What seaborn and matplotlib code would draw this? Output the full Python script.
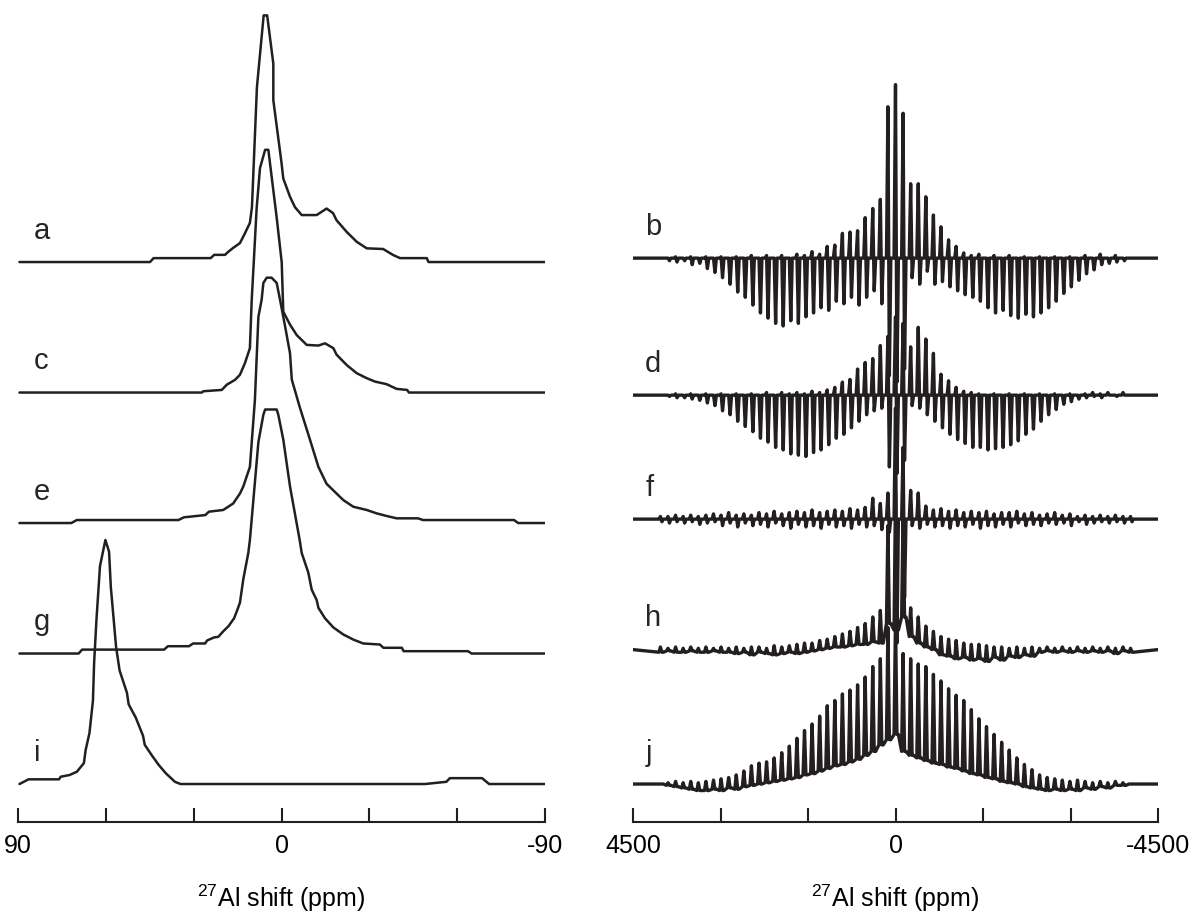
import numpy as np
import pandas as pd
import matplotlib
matplotlib.use("Agg")
import matplotlib.pyplot as plt
import seaborn as sns

# ---- left panel: 27Al MAS spectra (ppm, intensity above own baseline) ----
a_ppm = [89.5, 44.9, 43.7, 24.2, 23.0, 19.3, 18.1, 16.6, 14.2, 12.5, 10.8, 10.1, 8.4, 6.1, 4.9,
         2.8, 2.8, 0.0, -0.6, -2.9, -4.6, -6.9, -12.0, -15.4, -17.6, -18.8, -22.3, -25.7, -29.1,
         -34.7, -38.1, -40.5, -49.6, -50.2, -90.0]
a_int = [0, 0, 0.03, 0.03, 0.055, 0.055, 0.08, 0.107, 0.145, 0.22, 0.30, 0.42, 1.34, 1.89, 1.89,
         1.52, 1.24, 0.76, 0.64, 0.50, 0.42, 0.36, 0.36, 0.41, 0.375, 0.32, 0.23, 0.155, 0.105,
         0.10, 0.054, 0.03, 0.03, 0, 0]

c_ppm = [89.5, 27.2, 26.7, 20.4, 18.7, 15.9, 14.2, 12.5, 10.8, 10.2, 9.6, 8.5, 7.35, 5.6, 4.5,
         1.65, -0.06, -0.6, -2.9, -5.2, -8.6, -12.6, -14.85, -17.7, -18.8, -22.3, -25.7, -29.1,
         -31.9, -35.9, -39.3, -42.9, -43.5, -90.0]
c_int = [0, 0, 0.01, 0.02, 0.06, 0.097, 0.136, 0.225, 0.34, 0.70, 0.95, 1.41, 1.72, 1.86, 1.86,
         1.34, 1.0, 0.62, 0.52, 0.44, 0.365, 0.36, 0.377, 0.34, 0.29, 0.21, 0.148, 0.11,
         0.084, 0.064, 0.028, 0.02, 0, 0]

e_ppm = [89.5, 71.8, 69.9, 35.2, 33.3, 26.0, 24.8, 19.9, 16.5, 14.2, 13.05, 10.8, 9.1, 7.9, 6.8,
         6.2, 5.06, 3.4, 1.65, 0.5, -1.2, -2.9, -3.5, -6.2, -9.7, -12.6, -15.4, -17.7, -21.1,
         -24.5, -29.1, -32.5, -35.9, -39.3, -46.6, -48.3, -79.4, -80.8, -90.0]
e_int = [0, 0, 0.023, 0.023, 0.044, 0.061, 0.087, 0.10, 0.15, 0.226, 0.28, 0.43, 0.94, 1.58, 1.71,
         1.84, 1.88, 1.88, 1.84, 1.71, 1.51, 1.30, 1.10, 0.89, 0.64, 0.43, 0.30, 0.25, 0.176,
         0.125, 0.10, 0.074, 0.054, 0.036, 0.036, 0.023, 0.023, 0, 0]

g_ppm = [89.5, 69.3, 68.1, 40.1, 38.8, 31.6, 30.2, 26.1, 25.4, 23.1, 21.6, 19.9, 18.1, 16.2, 15.0,
         14.2, 13.05, 11.35, 10.8, 7.9, 6.2, 5.6, 1.65, 1.1, -0.6, -2.9, -6.2, -6.9, -9.15, -10.3,
         -12.0, -12.6, -14.85, -17.7, -21.1, -24.5, -27.9, -33.6, -34.8, -41.1, -41.7, -63.7,
         -64.9, -90.0]
g_int = [0, 0, 0.03, 0.03, 0.056, 0.056, 0.077, 0.077, 0.10, 0.123, 0.128, 0.17, 0.21, 0.27, 0.34,
         0.39, 0.57, 0.77, 0.87, 1.62, 1.83, 1.87, 1.87, 1.83, 1.64, 1.28, 0.87, 0.77, 0.62, 0.49,
         0.41, 0.35, 0.27, 0.20, 0.146, 0.107, 0.077, 0.069, 0.044, 0.044, 0.018, 0.018, 0, 0]

i_ppm = [89.5, 86.4, 76.0, 75.4, 72.4, 69.9, 67.5, 66.9, 65.6, 64.4, 64.0, 63.2, 62.0, 60.15, 58.9,
         58.3, 56.5, 55.3, 52.8, 52.2, 49.8, 47.3, 46.7, 44.3, 41.9, 39.5, 36.4, 34.5, -49.0,
         -56.3, -57.5, -68.5, -70.9, -90.0]
i_int = [0, 0.036, 0.036, 0.056, 0.069, 0.094, 0.16, 0.26, 0.39, 0.64, 0.93, 1.26, 1.67, 1.87, 1.78,
         1.51, 1.05, 0.87, 0.70, 0.61, 0.51, 0.37, 0.30, 0.22, 0.145, 0.082, 0.017, 0, 0,
         0.017, 0.045, 0.045, 0, 0]

left_labels = ["a", "c", "e", "g", "i"]
left_offsets = [4.0, 3.0, 2.0, 1.0, 0.0]

# ---- right panel: static spectra, spinning sidebands of order +31 ... -31 ----
sideband_order = list(range(31, -32, -1))
spin_ppm = 130  # sideband spacing

b_up = [0, 0, 0.01, 0, 0.01, 0, 0.01, 0, 0.01, 0,
        0.01, 0, 0.02, 0, 0.02, 0, 0.02, 0, 0.03, 0.02,
        0.05, 0.03, 0.09, 0.1, 0.19, 0.2, 0.21, 0.31, 0.38, 0.45,
        1.16, 1.33, 1.11,
        0.57, 0.57, 0.47, 0.33, 0.24, 0.14, 0.09, 0.04, 0.02, 0.03,
        0, 0.02, 0, 0.02, 0, 0.01, 0, 0.01, 0, 0.01,
        0, 0.01, 0, 0.02, 0, 0.03, 0, 0.02, 0, 0]
b_down = [0, -0.02, -0.03, -0.02, -0.05, -0.04, -0.08, -0.11, -0.15, -0.2,
          -0.26, -0.3, -0.36, -0.42, -0.46, -0.5, -0.52, -0.48, -0.5, -0.45,
          -0.42, -0.38, -0.4, -0.33, -0.35, -0.3, -0.36, -0.3, -0.25, -0.35,
          -0.9, -0.95, -0.85,
          -0.15, -0.2, -0.1, -0.2, -0.18, -0.22, -0.25, -0.28, -0.3, -0.33,
          -0.38, -0.42, -0.4, -0.44, -0.46, -0.43, -0.45, -0.42, -0.38, -0.33,
          -0.27, -0.22, -0.17, -0.12, -0.09, -0.05, -0.04, -0.03, -0.02, 0]

d_up = [0, 0, 0.01, 0, 0.01, 0, 0.01, 0, 0.01, 0,
        0.01, 0, 0.01, 0, 0.02, 0, 0.02, 0.01, 0.02, 0.01,
        0.03, 0.02, 0.04, 0.06, 0.1, 0.12, 0.2, 0.25, 0.28, 0.38,
        0.45, 0.6, 0.55,
        0.37, 0.52, 0.43, 0.32, 0.16, 0.11, 0.06, 0.03, 0.02, 0.01,
        0, 0.01, 0, 0.01, 0, 0.01, 0, 0.01, 0, 0.01,
        0, 0.01, 0, 0.01, 0.02, 0.01, 0.02, 0, 0.02, 0]
d_down = [0, -0.01, -0.02, -0.02, -0.03, -0.04, -0.06, -0.08, -0.12, -0.15,
          -0.2, -0.24, -0.28, -0.33, -0.36, -0.4, -0.42, -0.45, -0.46, -0.47,
          -0.44, -0.42, -0.38, -0.33, -0.3, -0.25, -0.2, -0.15, -0.12, -0.1,
          -0.55, -0.6, -0.5,
          -0.08, -0.1, -0.15, -0.2, -0.25, -0.3, -0.34, -0.37, -0.4, -0.4,
          -0.42, -0.41, -0.4, -0.38, -0.35, -0.3, -0.26, -0.2, -0.15, -0.11,
          -0.07, -0.05, -0.03, -0.02, -0.01, -0.02, 0, -0.01, 0, 0]

f_up = [0.02, 0.02, 0.03, 0.02, 0.03, 0.02, 0.03, 0.04, 0.03, 0.05,
        0.03, 0.04, 0.03, 0.05, 0.04, 0.06, 0.04, 0.05, 0.06, 0.05,
        0.07, 0.05, 0.06, 0.07, 0.06, 0.08, 0.07, 0.09, 0.16, 0.12,
        0.2, 0.85, 0.55,
        0.22, 0.2, 0.1, 0.07, 0.08, 0.06, 0.07, 0.05, 0.06, 0.05,
        0.06, 0.04, 0.05, 0.05, 0.06, 0.04, 0.05, 0.03, 0.04, 0.05,
        0.03, 0.04, 0.02, 0.03, 0.02, 0.03, 0.02, 0.03, 0.02, 0.02]
f_down = [-0.02, -0.03, -0.02, -0.03, -0.02, -0.04, -0.03, -0.02, -0.05, -0.03,
          -0.06, -0.03, -0.05, -0.04, -0.06, -0.03, -0.05, -0.07, -0.04, -0.06,
          -0.05, -0.07, -0.04, -0.06, -0.05, -0.07, -0.04, -0.06, -0.05, -0.08,
          -0.1, -0.95, -0.6,
          -0.05, -0.07, -0.04, -0.06, -0.05, -0.07, -0.05, -0.06, -0.04, -0.07,
          -0.05, -0.06, -0.04, -0.06, -0.03, -0.05, -0.04, -0.05, -0.03, -0.04,
          -0.03, -0.05, -0.02, -0.04, -0.03, -0.02, -0.03, -0.02, -0.03, -0.02]

h_up = [0.02, 0.01, 0.02, 0.01, 0.02, 0.01, 0.02, 0.01, 0.02, 0.01,
        0.02, 0.01, 0.02, 0.02, 0.01, 0.03, 0.02, 0.03, 0.04, 0.05,
        0.05, 0.07, 0.08, 0.1, 0.12, 0.14, 0.17, 0.2, 0.25, 0.3,
        0.95, 1.2, 1.05,
        0.32, 0.25, 0.18, 0.14, 0.1, 0.08, 0.07, 0.05, 0.04, 0.04,
        0.03, 0.02, 0.02, 0.01, 0.02, 0.01, 0.02, 0.01, 0.02, 0.01,
        0.02, 0.01, 0.02, 0.01, 0.02, 0.01, 0.02, 0.01, 0.02, 0.01]
h_down = [-0.02, -0.01, -0.02, -0.02, -0.01, -0.02, -0.02, -0.01, -0.02, -0.02,
          -0.03, -0.02, -0.04, -0.02, -0.03, -0.04, -0.03, -0.02, -0.03, -0.02,
          -0.01, 0.0, 0.01, 0.02, 0.02, 0.03, 0.04, 0.04, 0.06, 0.05,
          0.2, 0.15, 0.25,
          0.1, 0.05, 0.02, 0.0, -0.04, -0.05, -0.07, -0.06, -0.08, -0.07,
          -0.09, -0.06, -0.08, -0.05, -0.06, -0.04, -0.05, -0.02, -0.01, -0.02,
          -0.01, -0.02, -0.01, -0.02, -0.01, -0.02, -0.01, -0.03, -0.01, -0.02]

j_up = [0, 0.01, 0.02, 0.01, 0.02, 0.01, 0.02, 0.03, 0.04, 0.05,
        0.07, 0.1, 0.14, 0.16, 0.17, 0.2, 0.24, 0.29, 0.35, 0.41,
        0.46, 0.52, 0.6, 0.64, 0.69, 0.72, 0.76, 0.82, 0.9, 0.96,
        1.2, 1.27, 1.0,
        0.96, 0.92, 0.9, 0.84, 0.79, 0.73, 0.68, 0.64, 0.57, 0.5,
        0.44, 0.38, 0.32, 0.26, 0.2, 0.15, 0.11, 0.07, 0.05, 0.04,
        0.03, 0.02, 0.03, 0.02, 0.01, 0.02, 0.01, 0.02, 0.01, 0]
j_down = [0, -0.01, -0.02, -0.03, -0.04, -0.05, -0.05, -0.04, -0.05, -0.03,
          -0.04, -0.02, -0.01, 0.0, 0.01, 0.02, 0.03, 0.04, 0.05, 0.07,
          0.08, 0.1, 0.12, 0.14, 0.15, 0.17, 0.19, 0.22, 0.25, 0.3,
          0.34, 0.38, 0.25,
          0.22, 0.2, 0.18, 0.16, 0.15, 0.13, 0.12, 0.1, 0.08, 0.07,
          0.05, 0.04, 0.02, 0.01, 0.0, -0.02, -0.03, -0.04, -0.05, -0.04,
          -0.05, -0.04, -0.05, -0.03, -0.04, -0.02, -0.03, -0.01, -0.01, 0]

right_labels = ["b", "d", "f", "h", "j"]
right_offsets = [4.03, 2.98, 2.03, 1.03, 0.0]
# h and j only spike upward from their lower envelope; b, d, f swing about zero
right_floor = [None, None, None, h_down, j_down]

ink = "#231f20"

sns.set_theme(style="white")
plt.rcParams["font.family"] = ["Liberation Sans", "DejaVu Sans"]
plt.rcParams["mathtext.fontset"] = "custom"
plt.rcParams["mathtext.rm"] = "Liberation Sans"


def sideband_trace(up, down, offset, floor=None):
    # each sideband is a narrow spike: floor -> tip -> low point -> floor
    xs, ys = [4500], [offset]
    for n, (k, u, d) in enumerate(zip(sideband_order, up, down)):
        p = k * spin_ppm
        f0 = 0 if floor is None else floor[n]
        xs += [p + 25, p, p - 25, p - 50]
        ys += [f0 + offset, u + offset, d + offset, f0 + offset]
    xs.append(-4500)
    ys.append(offset)
    return pd.DataFrame({"ppm": xs, "y": ys})


def style_axis(ax, lim, ticks, labels):
    ax.set_xlim(lim, -lim)
    ax.set_ylim(-0.291, 6.008)
    ax.set_xticks(ticks)
    ax.set_xticklabels(labels)
    ax.set_yticks([])
    ax.set_ylabel("")
    ax.set_xlabel("$\\mathregular{^{27}}$Al shift (ppm)", fontsize=18, color="black", labelpad=17)
    ax.tick_params(axis="x", direction="in", length=10, width=1.5, pad=9,
                   labelsize=18, color=ink, labelcolor="black", bottom=True)
    sns.despine(ax=ax, left=True)
    ax.spines["bottom"].set_linewidth(1.5)
    ax.spines["bottom"].set_color(ink)
    ax.patch.set_alpha(0)


fig = plt.figure(figsize=(12, 9.17), dpi=100)
ax_l = fig.add_axes([0.015, 0.1036, 0.4392, 0.8964])
ax_r = fig.add_axes([0.5275, 0.1036, 0.4375, 0.8964])

left_data = [(a_ppm, a_int), (c_ppm, c_int), (e_ppm, e_int), (g_ppm, g_int), (i_ppm, i_int)]
for (ppm, inten), name, off in zip(left_data, left_labels, left_offsets):
    df = pd.DataFrame({"ppm": ppm, "y": np.array(inten) + off})
    sns.lineplot(data=df, x="ppm", y="y", ax=ax_l, sort=False, estimator=None,
                 color=ink, linewidth=1.8)
    ax_l.text(84.5, off + 0.18, name, fontsize=21, ha="left", va="baseline")

right_data = [(b_up, b_down), (d_up, d_down), (f_up, f_down), (h_up, h_down), (j_up, j_down)]
for (up, down), name, off, floor in zip(right_data, right_labels, right_offsets, right_floor):
    df = sideband_trace(up, down, off, floor)
    sns.lineplot(data=df, x="ppm", y="y", ax=ax_r, sort=False, estimator=None,
                 color=ink, linewidth=2.4)
    ax_r.text(4290, off + 0.18, name, fontsize=21, ha="left", va="baseline")

style_axis(ax_l, 90, [90, 60, 30, 0, -30, -60, -90], ["90", "", "", "0", "", "", "-90"])
style_axis(ax_r, 4500, [4500, 3000, 1500, 0, -1500, -3000, -4500],
           ["4500", "", "", "0", "", "", "-4500"])

fig.savefig("out.png", dpi=100, facecolor="white")
